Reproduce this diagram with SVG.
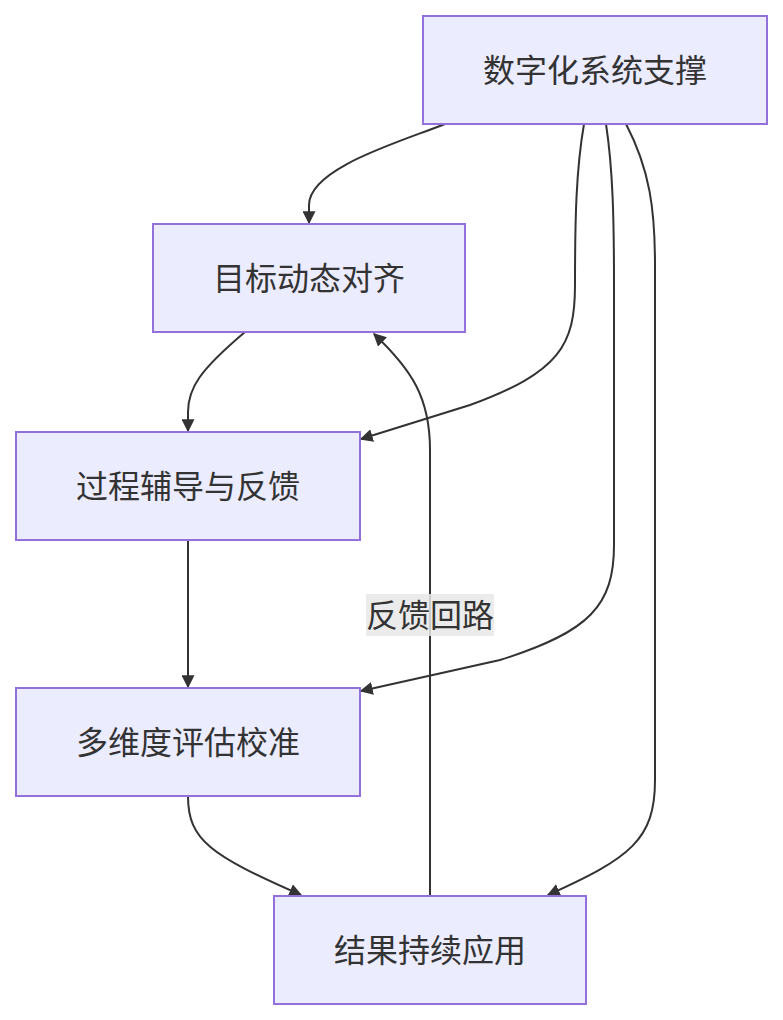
<svg xmlns="http://www.w3.org/2000/svg" width="783" height="1020" viewBox="0 0 783 1020">
<style>
.node rect{fill:#ECECFF;stroke:#9370DB;stroke-width:2}
.node text,.lbl text{font-family:"Noto Sans CJK SC","Liberation Sans",sans-serif;font-size:32px;fill:#333;text-anchor:middle;dominant-baseline:central}
.edge{fill:none;stroke:#333;stroke-width:2}
</style>
<defs>
<marker id="arr" viewBox="0 0 10 10" refX="9" refY="5" markerWidth="13" markerHeight="13" markerUnits="userSpaceOnUse" orient="auto">
<path d="M0,0 L10,5 L0,10 z" fill="#333"/>
</marker>
</defs>
<rect width="783" height="1020" fill="#fff"/>
<g id="connectors">
<path class="edge" marker-end="url(#arr)" d="M445,124 C400,142 309,168 309,205 L309,223"/>
<path class="edge" marker-end="url(#arr)" d="M584,124 C576,170 575,220 575,285 C575,345 560,372 470,405 L361,439"/>
<path class="edge" marker-end="url(#arr)" d="M606,124 C613,170 614,220 614,285 L614,545 C614,605 590,632 500,660 L361,691"/>
<path class="edge" marker-end="url(#arr)" d="M626,124 C650,170 655,210 655,265 L655,780 C655,840 630,858 548,895"/>
<path class="edge" marker-end="url(#arr)" d="M245,332 C200,370 188,388 188,412 L188,431"/>
<path class="edge" marker-end="url(#arr)" d="M188,540 L188,687"/>
<path class="edge" marker-end="url(#arr)" d="M188,796 C188,840 210,855 301,895"/>
<path class="edge" marker-end="url(#arr)" d="M430,896 L430,450 C430,398 412,370 374,334"/>
</g>
<g id="label-feedback" class="lbl">
<rect x="366" y="594" width="128" height="42" fill="#E8E8E8" opacity="0.85"/>
<text x="430" y="613">反馈回路</text>
</g>
<g id="node-digital" class="node"><rect x="423" y="16" width="344" height="108"/><text x="595" y="68">数字化系统支撑</text></g>
<g id="node-goal" class="node"><rect x="153" y="224" width="312" height="108"/><text x="309" y="276">目标动态对齐</text></g>
<g id="node-process" class="node"><rect x="16" y="432" width="344" height="108"/><text x="188" y="484">过程辅导与反馈</text></g>
<g id="node-eval" class="node"><rect x="16" y="688" width="344" height="108"/><text x="188" y="740">多维度评估校准</text></g>
<g id="node-result" class="node"><rect x="274" y="896" width="312" height="108"/><text x="430" y="948">结果持续应用</text></g>
</svg>
